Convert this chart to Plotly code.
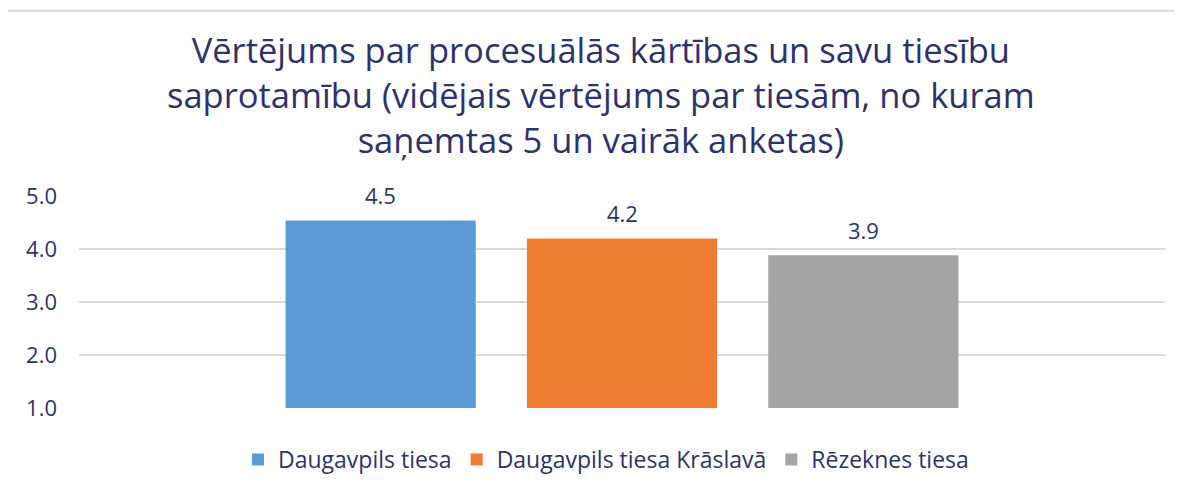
import plotly.graph_objects as go

series_names = ["Daugavpils tiesa", "Daugavpils tiesa Krāslavā", "Rēzeknes tiesa"]
series_values = [4.54, 4.20, 3.88]
series_colors = ["#5B9BD5", "#ED7D31", "#A5A5A5"]
y_ticks = [1.0, 2.0, 3.0, 4.0, 5.0]
title_text = ("Vērtējums par procesuālās kārtības un savu tiesību<br>"
              "saprotamību (vidējais vērtējums par tiesām, no kuram<br>"
              "saņemtas 5 un vairāk anketas)")

navy = "#2E3170"
font_family = "Open Sans, Lato, sans-serif"

# page body has an 8px margin; plot area placed in screen coords
OFF = 8
PX0, PX1, PY0, PY1 = 79, 1165, 196, 410  # screen coords of plot area
W, H = 1182 - OFF, 493 - OFF

def px(x):
    return (x - PX0) / (PX1 - PX0)

def py(y):
    return (PY1 - y) / (PY1 - PY0)

fig = go.Figure()
for name, val, col in zip(series_names, series_values, series_colors):
    fig.add_trace(go.Bar(
        x=[name], y=[val], name=name, marker_color=col,
        marker_line_width=0, cliponaxis=False, legendgroup=name,
    ))

annotations = [dict(x=name, y=val, xref="x", yref="y", text=f"{val:.1f}",
                    showarrow=False, yanchor="bottom", yshift=8,
                    font=dict(color=navy, size=22, family=font_family))
               for name, val in zip(series_names, series_values)]
annotations.append(dict(text=title_text, xref="paper", yref="paper",
                        x=px(601), y=py(22), xanchor="center", yanchor="top",
                        showarrow=False, align="center",
                        font=dict(color=navy, size=34.5, family=font_family)))

fig.update_layout(
    width=W, height=H,
    margin=dict(l=PX0 - OFF, r=W - (PX1 - OFF), t=PY0 - OFF, b=H - (PY1 - OFF)),
    paper_bgcolor="white", plot_bgcolor="white",
    bargap=0.212,
    showlegend=True,
    legend=dict(orientation="h", x=px(606), xanchor="center", y=py(462), yanchor="middle",
                font=dict(color=navy, size=23, family=font_family),
                itemwidth=30, traceorder="normal", tracegroupgap=38),
    xaxis=dict(showticklabels=False, showgrid=False, zeroline=False, showline=False,
               range=[-1.25, 3.25]),
    yaxis=dict(range=[1, 5], tickvals=y_ticks, tickformat=".1f",
               showgrid=True, gridcolor="#D9D9D9", gridwidth=2,
               zeroline=False, showline=False, ticks="",
               tickfont=dict(color=navy, size=22, family=font_family),
               ticklabelstandoff=21),
    annotations=annotations,
    shapes=[dict(type="rect", xref="paper", yref="paper",
                 x0=px(5), x1=px(1195), y0=py(520), y1=py(9),
                 line=dict(color="#D9D9D9", width=2), fillcolor="rgba(0,0,0,0)",
                 layer="below")],
)

fig.write_html("out.html")
